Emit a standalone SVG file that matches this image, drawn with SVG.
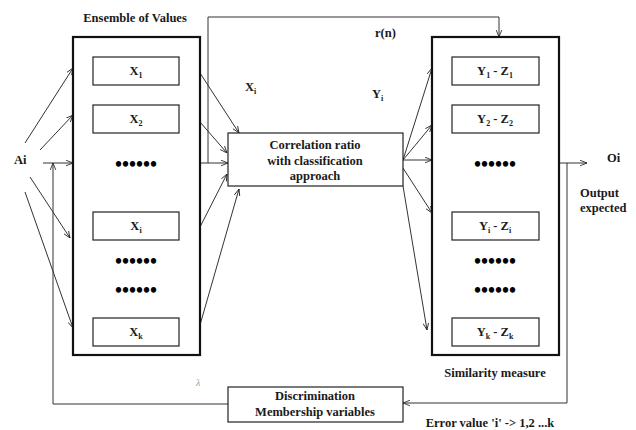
<svg xmlns="http://www.w3.org/2000/svg" width="636" height="430" viewBox="0 0 636 430">
<defs>
<marker id="ah" viewBox="0 0 10 10" refX="10" refY="5" markerWidth="7" markerHeight="7" orient="auto" markerUnits="userSpaceOnUse">
<path d="M0,1 L10,5 L0,9" fill="none" stroke="#222" stroke-width="1.2"/>
</marker>
<style>
.t{font-family:"Liberation Serif","Times New Roman",serif;font-weight:bold;font-size:12.5px;fill:#1a1a1a}
.m{text-anchor:middle}
.s{font-size:8px}
.dots{font-family:"Liberation Serif",serif;font-size:20px;font-weight:bold;fill:#000;text-anchor:middle}
.big{fill:#fff;stroke:#111;stroke-width:2.2}
.box{fill:#fff;stroke:#222;stroke-width:1.2}
.c{fill:none;stroke:#333;stroke-width:1}
.a{marker-end:url(#ah)}
</style>
</defs>
<rect width="636" height="430" fill="#fff"/>

<g id="connectors">
<line class="c a" x1="25" y1="143" x2="73" y2="68"/>
<line class="c a" x1="40" y1="150" x2="73" y2="115"/>
<line class="c a" x1="43" y1="163" x2="73" y2="163"/>
<line class="c a" x1="30" y1="177" x2="70" y2="238"/>
<line class="c a" x1="25" y1="192" x2="73" y2="328"/>
<polyline class="c a" points="228,404 53,404 53,163"/>
<polyline class="c a" points="567,163 567,403 403,403"/>
<polyline class="c a" points="208,163 208,17 499,17 499,37"/>
<line class="c a" x1="200" y1="163" x2="228" y2="163"/>
<line class="c a" x1="200" y1="73" x2="239" y2="133"/>
<line class="c a" x1="200" y1="122" x2="227" y2="153"/>
<line class="c a" x1="200" y1="227" x2="227" y2="174"/>
<line class="c a" x1="200" y1="325" x2="239" y2="189"/>
<line class="c a" x1="403" y1="160" x2="432" y2="68"/>
<line class="c a" x1="403" y1="160" x2="432" y2="125"/>
<line class="c a" x1="403" y1="160" x2="432" y2="160"/>
<line class="c a" x1="403" y1="168" x2="432" y2="213"/>
<line class="c a" x1="403" y1="186" x2="427" y2="330"/>
<line class="c a" x1="559" y1="163" x2="587" y2="163"/>
</g>

<g id="ensemble">
<rect class="big" x="73" y="37" width="127" height="318"/>
<text class="t m" x="135" y="22">Ensemble of Values</text>
</g>
<g id="x1"><rect class="box" x="93" y="57" width="86" height="28"/><text class="t m" x="136" y="75">X<tspan class="s" dy="3">1</tspan></text></g>
<g id="x2"><rect class="box" x="93" y="105" width="86" height="28"/><text class="t m" x="136" y="123">X<tspan class="s" dy="3">2</tspan></text></g>
<text class="dots" x="136" y="171">••••••</text>
<g id="xi"><rect class="box" x="93" y="212" width="86" height="28"/><text class="t m" x="136" y="230">X<tspan class="s" dy="3">i</tspan></text></g>
<text class="dots" x="136" y="268">••••••</text>
<text class="dots" x="136" y="297">••••••</text>
<g id="xk"><rect class="box" x="93" y="318" width="86" height="28"/><text class="t m" x="136" y="336">X<tspan class="s" dy="3">k</tspan></text></g>

<g id="similarity">
<rect class="big" x="432" y="37" width="127" height="318"/>
<text class="t m" x="495" y="377">Similarity measure</text>
</g>
<g id="y1"><rect class="box" x="452" y="57" width="87" height="28"/><text class="t m" x="495" y="75">Y<tspan class="s" dy="3">1</tspan><tspan dy="-3"> - Z</tspan><tspan class="s" dy="3">1</tspan></text></g>
<g id="y2"><rect class="box" x="452" y="105" width="87" height="28"/><text class="t m" x="495" y="123">Y<tspan class="s" dy="3">2</tspan><tspan dy="-3"> - Z</tspan><tspan class="s" dy="3">2</tspan></text></g>
<text class="dots" x="495" y="171">••••••</text>
<g id="yi"><rect class="box" x="452" y="212" width="87" height="28"/><text class="t m" x="495" y="230">Y<tspan class="s" dy="3">i</tspan><tspan dy="-3"> - Z</tspan><tspan class="s" dy="3">i</tspan></text></g>
<text class="dots" x="495" y="268">••••••</text>
<text class="dots" x="495" y="297">••••••</text>
<g id="yk"><rect class="box" x="452" y="318" width="87" height="28"/><text class="t m" x="495" y="336">Y<tspan class="s" dy="3">k</tspan><tspan dy="-3"> - Z</tspan><tspan class="s" dy="3">k</tspan></text></g>

<g id="correlation">
<rect class="box" x="228" y="133" width="175" height="53"/>
<text class="t m" x="315" y="149">Correlation ratio</text>
<text class="t m" x="315" y="165">with classification</text>
<text class="t m" x="315" y="180">approach</text>
</g>
<g id="discrimination">
<rect class="box" x="228" y="387" width="175" height="35"/>
<text class="t m" x="315" y="400">Discrimination</text>
<text class="t m" x="315" y="416">Membership variables</text>
</g>

<g id="labels">
<text class="t" x="14" y="164">Ai</text>
<text class="t" x="245" y="91">X<tspan class="s" dy="3">i</tspan></text>
<text class="t" x="372" y="98">Y<tspan class="s" dy="3">i</tspan></text>
<text class="t" x="375" y="37">r(n)</text>
<text class="t" x="607" y="162">Oi</text>
<text class="t" x="580" y="197">Output</text>
<text class="t" x="580" y="212">expected</text>
<text class="t m" x="490" y="427">Error value 'i' -&gt; 1,2 ...k</text>
<text x="196" y="386" style="font-family:'Liberation Serif',serif;font-style:italic;font-size:10px;fill:#999">λ</text>
</g>
</svg>
